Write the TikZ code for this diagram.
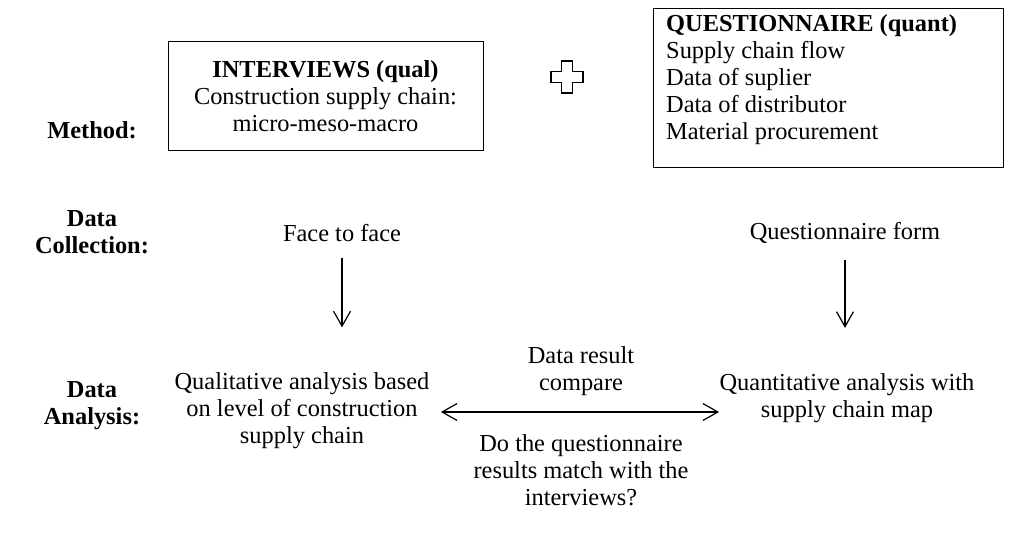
\documentclass[tikz,border=0pt]{standalone}
\usepackage{fontspec}
\setmainfont{Liberation Serif}
\usetikzlibrary{
  arrows.meta,
  positioning
}
\newcommand{\diagsize}{\fontsize{24.4}{27}\selectfont}
\tikzset{
%
  % For normal lines.
  line/.style={
    line width=1.2pt},
%
  % For the open arrow tip.
  barb/.tip={
    Straight Barb[length=15pt,
                  width=17pt,
                  line width=1.2pt]},
%
  % For the step from collection to analysis.
  flow/.style={
    line,
    -{barb}},
%
  % For the comparison of both analyses.
  compare/.style={
    line,
    {barb}-{barb}},
%
  % For boxes of the methods.
  box/.style={
    draw,
    line width=1pt},
%
  % For the row titles on the left.
  stage/.style={
    font=\diagsize\bfseries,
    align=center},
%
  % For plain texts.
  item/.style={
    align=center}
}

\begin{document}
\begin{tikzpicture}[x=1pt, y=-1pt,
                    font=\diagsize]
  \useasboundingbox (0,0) rectangle (1010,540);

  % row titles
  \node[stage] (M) at (92,130) {Method:};
  \node[stage] (DC) at (92,232) {Data\\Collection:};
  \node[stage] (DA) at (92,406) {Data\\Analysis:};

  % methods
  \node[box,
        item,
        minimum width=315pt,
        minimum height=109pt] (I) at (325.5,96.5)
    {\textbf{INTERVIEWS (qual)}\\Construction supply chain:\\micro-meso-macro};
  \node[box,
        minimum width=350pt,
        minimum height=159pt,
        anchor=north west] (Q) at (653,8) {};
  \node[align=left,
        anchor=north west,
        inner sep=0pt] (QT) at ([xshift=13pt,yshift=-6pt]Q.north west)
    {\textbf{QUESTIONNAIRE (quant)}\\Supply chain flow\\Data of suplier\\
     Data of distributor\\Material procurement};

  % plus sign between the methods
  \coordinate (plus) at (567,77);
  \draw[line] (plus) ++(-5.5,-16) -- ++(11,0) -- ++(0,10.5) -- ++(10.5,0)
    -- ++(0,11) -- ++(-10.5,0) -- ++(0,10.5) -- ++(-11,0) -- ++(0,-10.5)
    -- ++(-10.5,0) -- ++(0,-11) -- ++(10.5,0) -- cycle;

  % data collection
  \node[item] (F) at (342,233) {Face to face};
  \node[item] (QF) at (845,233) {Questionnaire form};

  % data analysis
  \node[item] (QL) at (302,411)
    {Qualitative analysis based\\on level of construction\\supply chain};
  \node[item] (QN) at (847,398)
    {Quantitative analysis with\\supply chain map};

  \draw[flow, shorten <=13pt, shorten >=42pt] (F) -- (F |- QL.north);
  \draw[flow, shorten <=13pt, shorten >=42pt] (QF) -- (QF |- QN.north);

  \coordinate (mid) at (581,412);
  \draw[compare, shorten <=8pt, shorten >=-3pt]
    (QL.east |- mid) -- (QN.west |- mid);

  \node[item, above=13pt of mid] (R) {Data result\\compare};
  \node[item, below=19pt of mid] (D)
    {Do the questionnaire\\results match with the\\interviews?};
\end{tikzpicture}
\end{document}
